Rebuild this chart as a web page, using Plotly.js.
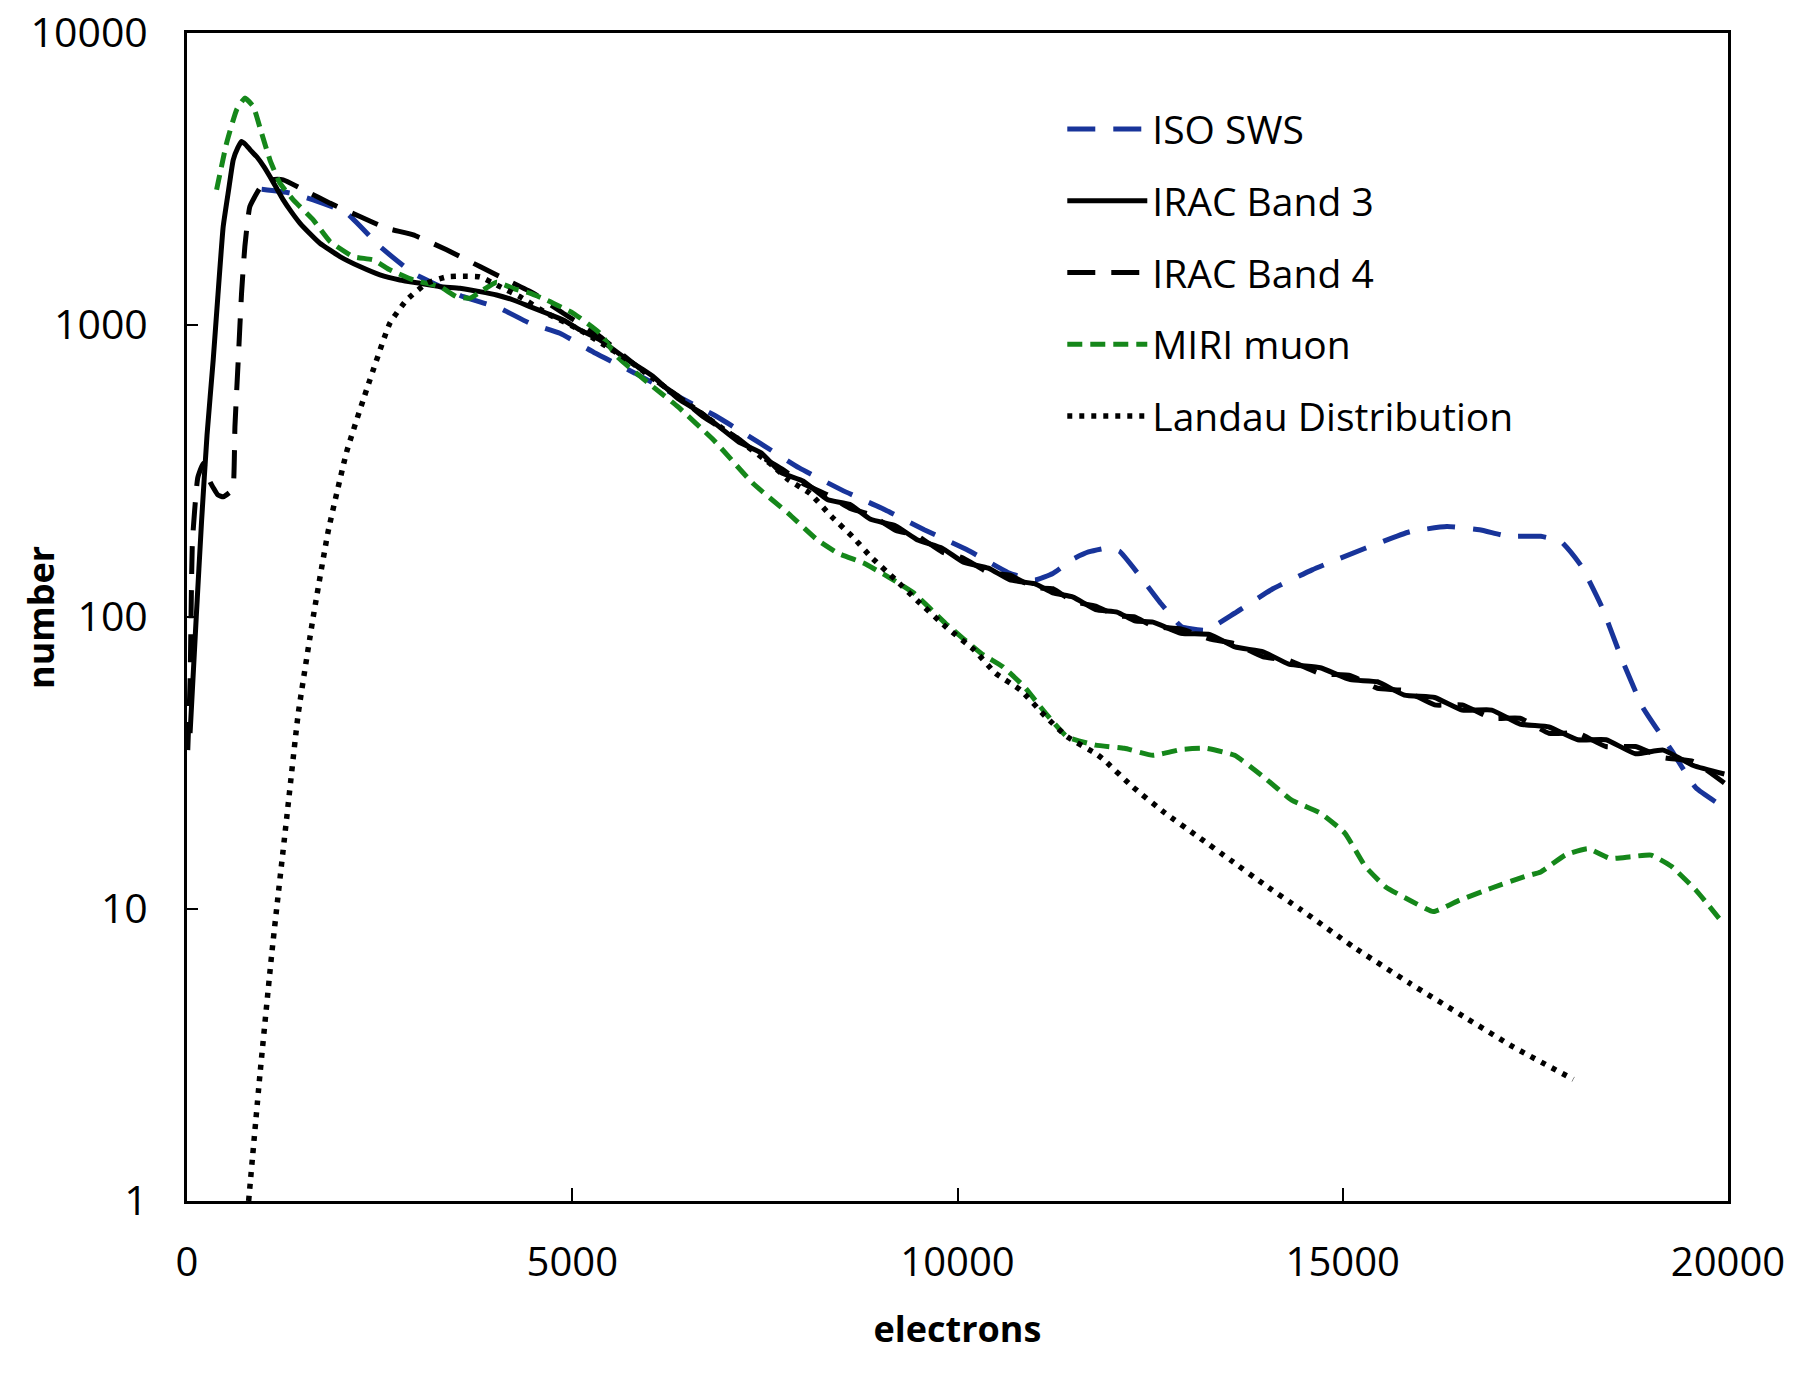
<!DOCTYPE html>
<html>
<head>
<meta charset="utf-8">
<script src="https://cdn.plot.ly/plotly-3.0.1.min.js"></script>
<style>
  html, body { margin: 0; padding: 0; background: #fff; }
  #chart { width: 1800px; height: 1374px; }
</style>
</head>
<body>
<div id="chart"></div>
<script>
// values (electrons vs number, log y)
var isoX = [969, 1336, 1638, 2071, 2504, 2936, 3196, 3585, 4061, 4450, 4840, 5303, 5813, 6370, 6879, 7436, 7946, 8501, 9058, 9568, 10124, 10681, 11005, 11237, 11500, 11700, 11932, 12100, 12378, 12643, 12908, 13226, 13597, 14073, 14603, 15292, 15875, 16351, 16775, 17147, 17570, 17835, 18100, 18365, 18629, 18895, 19265, 19583, 19980];
var isoY = [2917, 2833, 2683, 2417, 1857, 1503, 1389, 1250, 1141, 1014, 937, 800, 684, 570, 485, 394, 324, 272, 233, 199, 170, 141, 134, 141, 158, 167, 172, 168, 137, 111, 92.7, 90.2, 103, 124, 145, 172, 196, 204, 199, 189, 189, 181, 149, 108, 71, 49, 35, 26, 22];

var band3X = [40, 120, 190, 260, 340, 400, 470, 540, 600, 660, 708, 760, 820, 903, 1000, 1076, 1160, 1249, 1350, 1465, 1600, 1725, 1985, 2244, 2504, 2763, 3023, 3282, 3542, 3802, 4018, 4234, 4450, 4667, 4883, 5099, 5359, 5721, 6046, 6370, 6700, 7158, 7450, 7713, 8000, 8317, 8600, 8872, 9200, 9475, 9800, 10078, 10400, 10681, 11000, 11237, 11500, 11793, 12070, 12300, 12537, 12900, 13279, 13600, 13968, 14300, 14709, 15100, 15451, 15800, 16193, 16550, 16934, 17300, 17676, 18050, 18417, 18800, 19159, 19550, 19953];
var band3Y = [40, 100, 215, 420, 759, 1250, 2173, 2900, 3680, 4050, 4250, 4150, 3980, 3776, 3480, 3224, 2950, 2683, 2450, 2234, 2050, 1906, 1715, 1585, 1485, 1426, 1389, 1353, 1336, 1301, 1267, 1218, 1156, 1097, 1040, 962, 889, 759, 668, 560, 495, 398, 365, 312, 292, 252, 243, 216, 205, 184, 172, 154, 147, 134, 130, 121, 117, 106, 104, 97, 96, 88, 87, 79, 76, 69, 67, 61, 60, 54, 53, 48, 48, 43, 42, 38, 38, 34, 35, 31, 29];

var band4X = [10, 40, 70, 140, 212, 300, 400, 470, 560, 600, 622, 665, 708, 751, 816, 946, 1076, 1249, 1552, 1855, 2244, 2590, 2936, 3369, 3802, 4148, 4494, 4883, 5359, 5721, 6046, 6370, 6700, 7158, 7450, 7713, 8000, 8317, 8600, 8872, 9200, 9475, 9800, 10078, 10400, 10681, 11000, 11237, 11500, 11793, 12070, 12300, 12537, 12900, 13279, 13600, 13968, 14300, 14709, 15100, 15451, 15800, 16193, 16550, 16934, 17300, 17676, 18050, 18417, 18800, 19159, 19550, 19953];
var band4Y = [35, 60, 180, 300, 336, 290, 262, 258, 268, 280, 449, 759, 1285, 1857, 2545, 2943, 3141, 3141, 2866, 2614, 2351, 2146, 2036, 1809, 1585, 1426, 1285, 1097, 913, 765, 655, 572, 485, 408, 355, 322, 286, 262, 236, 224, 198, 190, 167, 159, 142, 139, 126, 125, 113, 109, 101, 100, 93, 91, 84, 81, 73, 71, 64, 63, 57, 56, 50, 50, 45, 45, 40, 40, 36, 36, 33, 32, 27];

var miriX = [384, 514, 644, 751, 860, 968, 1076, 1206, 1379, 1638, 1855, 2157, 2417, 2633, 2936, 3282, 3499, 3672, 3845, 4018, 4250, 4450, 4667, 5013, 5359, 5581, 6046, 6370, 6834, 7344, 7807, 8177, 8456, 8780, 9105, 9429, 9846, 10309, 10588, 10866, 11144, 11422, 11793, 12166, 12537, 12908, 13226, 13597, 13968, 14338, 14709, 15027, 15292, 15557, 15875, 16175, 16511, 16934, 17358, 17570, 17888, 18180, 18471, 18735, 19000, 19265, 19583, 19927];
var miriY = [2903, 4198, 5458, 5984, 5602, 4539, 3680, 3061, 2683, 2291, 1932, 1715, 1671, 1545, 1426, 1353, 1250, 1236, 1319, 1400, 1330, 1285, 1218, 1097, 937, 780, 615, 525, 404, 287, 226, 184, 165, 153, 137, 121, 95, 75, 67.6, 57.7, 46.8, 38.9, 36.4, 35.5, 33.6, 35.2, 35.5, 33.6, 28.4, 23.6, 21.3, 18.2, 14.0, 11.9, 10.7, 9.8, 10.7, 11.8, 12.9, 13.4, 15.3, 16.1, 14.9, 15.1, 15.3, 14.0, 11.6, 9.0];

var landauX = [800, 946, 1098, 1163, 1293, 1443, 1638, 1833, 2071, 2287, 2633, 2850, 3110, 3369, 3585, 3802, 4061, 4321, 4667, 5099, 5721, 6370, 7158, 7600, 7807, 8085, 8363, 8641, 8873, 9197, 9475, 9846, 10217, 10495, 10819, 11144, 11422, 11793, 11901, 12273, 12696, 13120, 13544, 13968, 14444, 15137, 15872, 16608, 17213, 17992];
var landauY = [1.0, 2.70, 6.95, 10, 20.4, 46.5, 100, 197, 367, 554, 1014, 1218, 1389, 1462, 1470, 1462, 1353, 1250, 1097, 962, 759, 569, 404, 330, 295, 265, 221, 188, 161, 134, 114, 92.7, 77.1, 64.1, 56.2, 45.6, 38.9, 34.1, 32.4, 26.2, 21.3, 17.7, 14.7, 12.2, 10.0, 7.42, 5.56, 4.22, 3.37, 2.61];

var yTicks = [1, 10, 100, 1000, 10000];
var xTicks = [0, 5000, 10000, 15000, 20000];

var FONT = '"Open Sans", "DejaVu Sans", sans-serif';

function series(name, x, y, color, dash, width) {
    return {
        x: x, y: y, name: name, type: 'scatter', mode: 'lines',
        legendgroup: name,
        line: { color: color, dash: dash, width: width, shape: 'spline', smoothing: 0.4 }
    };
}

var data = [
    series('ISO SWS', isoX, isoY, '#18349a', '28px,18px', 5),
    series('IRAC Band 3', band3X, band3Y, '#000000', 'solid', 5),
    series('IRAC Band 4', band4X, band4Y, '#000000', '28px,16px', 5),
    series('MIRI muon', miriX, miriY, '#15871a', '15px,8px', 5),
    series('Landau Distribution', landauX, landauY, '#000000', '5px,7px', 5.5)
];

var layout = {
    width: 1800, height: 1374,
    paper_bgcolor: '#fff', plot_bgcolor: '#fff',
    margin: { l: 187, r: 72, t: 33, b: 173 },
    font: { family: FONT, size: 38, color: '#000' },
    showlegend: true,
    legend: {
        x: 0.568, y: 0.945, xanchor: 'left', yanchor: 'top',
        bgcolor: 'rgba(0,0,0,0)', borderwidth: 0,
        font: { family: FONT, size: 39, color: '#000' },
        traceorder: 'grouped', tracegroupgap: 18, itemwidth: 80
    },
    xaxis: {
        range: [0, 20000], tickvals: xTicks, ticktext: xTicks.map(String),
        showgrid: false, zeroline: false,
        showline: true, linecolor: '#000', linewidth: 3, mirror: true,
        ticks: 'inside', ticklen: 13, tickwidth: 2, tickcolor: '#000',
        ticklabelstandoff: 24,
        tickfont: { family: FONT, size: 40 },
        title: { text: '<b>electrons</b>', font: { family: FONT, size: 36 }, standoff: 30 }
    },
    yaxis: {
        type: 'log', range: [0, 4], tickvals: yTicks, ticktext: yTicks.map(String),
        showgrid: false, zeroline: false,
        showline: true, linecolor: '#000', linewidth: 3, mirror: true,
        ticks: 'inside', ticklen: 11, tickwidth: 2, tickcolor: '#000',
        ticklabelstandoff: 28,
        tickfont: { family: FONT, size: 41 }
    },
    annotations: [{
        text: '<b>number</b>', textangle: -90, showarrow: false,
        xref: 'paper', yref: 'paper', x: -0.0954, y: 0.5,
        xanchor: 'center', yanchor: 'middle',
        font: { family: FONT, size: 36, color: '#000' }
    }]
};

Plotly.newPlot('chart', data, layout, { staticPlot: true });
</script>
</body>
</html>
